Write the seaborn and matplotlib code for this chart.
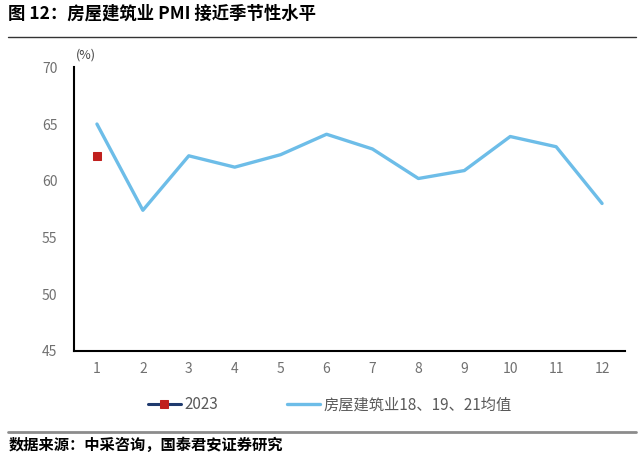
import numpy as np
import pandas as pd
import matplotlib.pyplot as plt
import seaborn as sns

# data
months = [1, 2, 3, 4, 5, 6, 7, 8, 9, 10, 11, 12]
avg_pmi = [65.0, 57.4, 62.2, 61.2, 62.3, 64.1, 62.8, 60.2, 60.9, 63.9, 63.0, 58.0]
months_2023 = [1]
pmi_2023 = [62.2]
label_2023 = "2023"
label_avg = "房屋建筑业18、19、21均值"

sns.set_style("white")
plt.rcParams['font.family'] = ['Noto Sans CJK SC', 'DejaVu Sans']

fig = plt.figure(figsize=(6.4, 4.66), dpi=100)
ax = fig.add_axes([0.1156, 0.2468, 0.861, 0.6088])

df_avg = pd.DataFrame({"month": months, "pmi": avg_pmi})
df_23 = pd.DataFrame({"month": months_2023, "pmi": pmi_2023})

sns.lineplot(data=df_23, x="month", y="pmi", ax=ax, color="#1F3A6E", lw=2.2,
             marker="s", markersize=6, markerfacecolor="#C0201E",
             markeredgecolor="#C0201E", label=label_2023)
sns.lineplot(data=df_avg, x="month", y="pmi", ax=ax, color="#6DBDE8", lw=2.4,
             label=label_avg)

ax.set_xlim(0.5, 12.5)
ax.set_ylim(45, 70)
ax.set_yticks([45, 50, 55, 60, 65, 70])
ax.set_xticks(months)
ax.set_xticks(np.arange(0.5, 13, 1), minor=True)
ax.tick_params(axis="x", which="major", length=0, pad=8, labelsize=10, labelcolor="#707070")
ax.tick_params(axis="x", which="minor", length=4, width=1.2, direction="out", color="black")
ax.tick_params(axis="y", length=4, width=1.2, direction="out", color="black",
               pad=8, labelsize=10, labelcolor="#707070")
ax.set_xlabel("")
ax.set_ylabel("")
for s in ["top", "right"]:
    ax.spines[s].set_visible(False)
for s in ["left", "bottom"]:
    ax.spines[s].set_color("black")
    ax.spines[s].set_linewidth(1.5)

fig.text(0.118, 0.875, "(%)", fontsize=9, color="#444444")

ax.get_legend().remove()
h, l = ax.get_legend_handles_labels()
fig.legend(h, l, loc="center", bbox_to_anchor=(0.515, 0.131), ncol=2, frameon=False,
           fontsize=11, labelcolor="#595959", handlelength=2.2, handletextpad=0.2,
           columnspacing=4.5)

fig.text(0.013, 0.97, "图 12：房屋建筑业 PMI 接近季节性水平", fontsize=12.5,
         fontweight="bold", va="center", color="black")
fig.add_artist(plt.Line2D([0.013, 0.994], [0.921, 0.921], color="#333333", lw=1))
fig.add_artist(plt.Line2D([0.013, 0.994], [0.073, 0.073], color="#8C8C8C", lw=2))
fig.text(0.013, 0.045, "数据来源：中采咨询，国泰君安证券研究", fontsize=11,
         fontweight="bold", va="center", color="black")

plt.savefig("out.png", dpi=100)
